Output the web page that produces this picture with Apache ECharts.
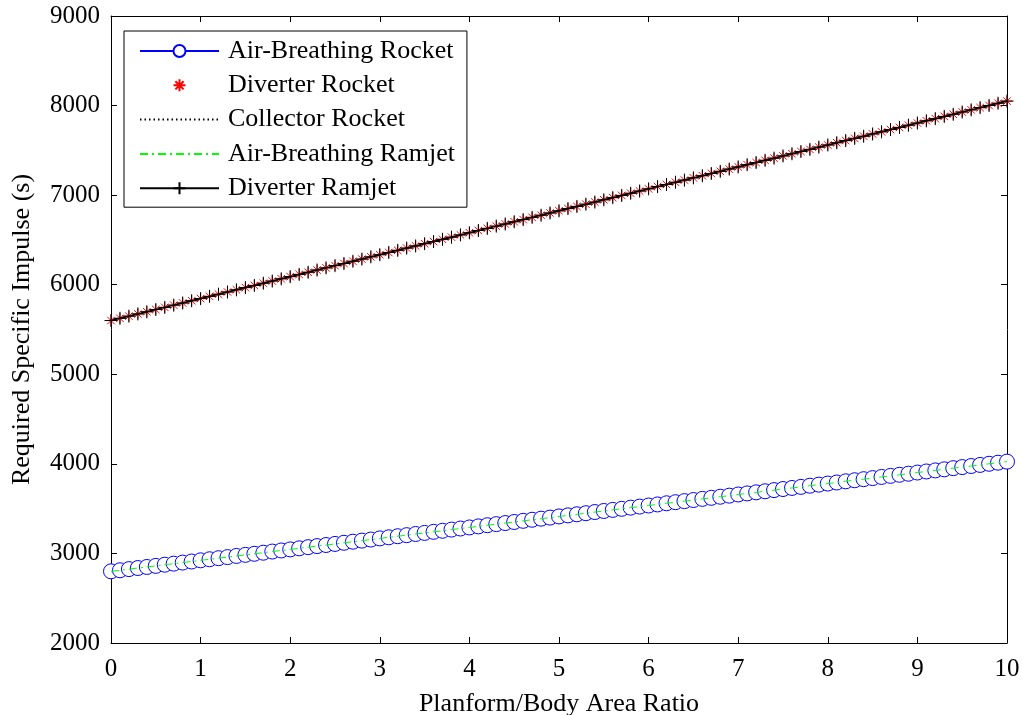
<!DOCTYPE html>
<html>
<head>
<meta charset="utf-8">
<script src="https://cdn.jsdelivr.net/npm/echarts@6/dist/echarts.min.js"></script>
<style>
html,body{margin:0;padding:0;background:#fff;}
#chart{width:1023px;height:715px;}
</style>
</head>
<body>
<div id="chart"></div>
<script>
const xValues = [0,0.1,0.2,0.3,0.4,0.5,0.6,0.7,0.8,0.9,1,1.1,1.2,1.3,1.4,1.5,1.6,1.7,1.8,1.9,2,2.1,2.2,2.3,2.4,2.5,2.6,2.7,2.8,2.9,3,3.1,3.2,3.3,3.4,3.5,3.6,3.7,3.8,3.9,4,4.1,4.2,4.3,4.4,4.5,4.6,4.7,4.8,4.9,5,5.1,5.2,5.3,5.4,5.5,5.6,5.7,5.8,5.9,6,6.1,6.2,6.3,6.4,6.5,6.6,6.7,6.8,6.9,7,7.1,7.2,7.3,7.4,7.5,7.6,7.7,7.8,7.9,8,8.1,8.2,8.3,8.4,8.5,8.6,8.7,8.8,8.9,9,9.1,9.2,9.3,9.4,9.5,9.6,9.7,9.8,9.9,10];

const abRocket = [2800,2812,2825,2837,2849,2861,2874,2886,2898,2910,2923,2935,2947,2959,2972,2984,2996,3008,3021,3033,3045,3057,3070,3082,3094,3106,3119,3131,3143,3155,3168,3180,3192,3204,3217,3229,3241,3253,3266,3278,3290,3302,3315,3327,3339,3351,3364,3376,3388,3400,3413,3425,3437,3449,3462,3474,3486,3498,3511,3523,3535,3547,3560,3572,3584,3596,3609,3621,3633,3645,3658,3670,3682,3694,3707,3719,3731,3743,3756,3768,3780,3792,3805,3817,3829,3841,3854,3866,3878,3890,3903,3915,3927,3939,3952,3964,3976,3988,4001,4013,4025];

const divRocket = [5600,5625,5649,5674,5698,5723,5747,5772,5796,5821,5845,5870,5894,5919,5943,5968,5992,6017,6041,6066,6090,6115,6139,6164,6188,6213,6237,6262,6286,6311,6335,6360,6384,6409,6433,6458,6482,6507,6531,6556,6580,6605,6629,6654,6678,6703,6727,6752,6776,6801,6825,6850,6874,6899,6923,6948,6972,6997,7021,7046,7070,7095,7119,7144,7168,7193,7217,7242,7266,7291,7315,7340,7364,7389,7413,7438,7462,7487,7511,7536,7560,7585,7609,7634,7658,7683,7707,7732,7756,7781,7805,7830,7854,7879,7903,7928,7952,7977,8001,8026,8050];

const collRocket = [5600,5625,5649,5674,5698,5723,5747,5772,5796,5821,5845,5870,5894,5919,5943,5968,5992,6017,6041,6066,6090,6115,6139,6164,6188,6213,6237,6262,6286,6311,6335,6360,6384,6409,6433,6458,6482,6507,6531,6556,6580,6605,6629,6654,6678,6703,6727,6752,6776,6801,6825,6850,6874,6899,6923,6948,6972,6997,7021,7046,7070,7095,7119,7144,7168,7193,7217,7242,7266,7291,7315,7340,7364,7389,7413,7438,7462,7487,7511,7536,7560,7585,7609,7634,7658,7683,7707,7732,7756,7781,7805,7830,7854,7879,7903,7928,7952,7977,8001,8026,8050];

const abRamjet = [2800,2812,2825,2837,2849,2861,2874,2886,2898,2910,2923,2935,2947,2959,2972,2984,2996,3008,3021,3033,3045,3057,3070,3082,3094,3106,3119,3131,3143,3155,3168,3180,3192,3204,3217,3229,3241,3253,3266,3278,3290,3302,3315,3327,3339,3351,3364,3376,3388,3400,3413,3425,3437,3449,3462,3474,3486,3498,3511,3523,3535,3547,3560,3572,3584,3596,3609,3621,3633,3645,3658,3670,3682,3694,3707,3719,3731,3743,3756,3768,3780,3792,3805,3817,3829,3841,3854,3866,3878,3890,3903,3915,3927,3939,3952,3964,3976,3988,4001,4013,4025];

const divRamjet = [5600,5625,5649,5674,5698,5723,5747,5772,5796,5821,5845,5870,5894,5919,5943,5968,5992,6017,6041,6066,6090,6115,6139,6164,6188,6213,6237,6262,6286,6311,6335,6360,6384,6409,6433,6458,6482,6507,6531,6556,6580,6605,6629,6654,6678,6703,6727,6752,6776,6801,6825,6850,6874,6899,6923,6948,6972,6997,7021,7046,7070,7095,7119,7144,7168,7193,7217,7242,7266,7291,7315,7340,7364,7389,7413,7438,7462,7487,7511,7536,7560,7585,7609,7634,7658,7683,7707,7732,7756,7781,7805,7830,7854,7879,7903,7928,7952,7977,8001,8026,8050];

const seriesNames = ['Air-Breathing Rocket','Diverter Rocket','Collector Rocket','Air-Breathing Ramjet','Diverter Ramjet'];
const xTitle = 'Planform/Body Area Ratio';
const yTitle = 'Required Specific Impulse (s)';

function pairs(ys){ return ys.map((y,i)=>[xValues[i], y]); }

const FONT = 'Liberation Serif';
const FS_TICK = 25;
const FS_TEXT = 26;
const ASTERISK = 'path://M5 0 L5 10 M0 5 L10 5 M1.6 1.6 L8.4 8.4 M8.4 1.6 L1.6 8.4';
const PLUS = 'path://M5 0 L5 10 M0 5 L10 5';

const chart = echarts.init(document.getElementById('chart'), null, {renderer:'canvas'});

const baseX = {
  type:'value', min:0, max:10, interval:1,
  axisLine:{show:true, onZero:false, lineStyle:{color:'#000', width:1}},
  axisTick:{show:true, inside:true, length:6, lineStyle:{color:'#000'}},
  splitLine:{show:false}
};
const baseY = {
  type:'value', min:2000, max:9000, interval:1000,
  axisLine:{show:true, onZero:false, lineStyle:{color:'#000', width:1}},
  axisTick:{show:true, inside:true, length:6, lineStyle:{color:'#000'}},
  splitLine:{show:false}
};

chart.setOption({
  animation:false,
  backgroundColor:'#fff',
  textStyle:{fontFamily:FONT},
  grid:{left:111, right:16, top:16, bottom:72, containLabel:false, outerBoundsMode:'none'},
  xAxis:[
    Object.assign({}, baseX, {
      position:'bottom',
      name:xTitle, nameLocation:'middle', nameGap:48,
      nameTextStyle:{fontFamily:FONT, fontSize:FS_TEXT, color:'#000'},
      axisLabel:{show:true, fontFamily:FONT, fontSize:FS_TICK, color:'#000', margin:14}
    }),
    Object.assign({}, baseX, {position:'top', axisLabel:{show:false}})
  ],
  yAxis:[
    Object.assign({}, baseY, {
      position:'left',
      name:yTitle, nameLocation:'middle', nameGap:76,
      nameTextStyle:{fontFamily:FONT, fontSize:FS_TEXT, color:'#000'},
      axisLabel:{show:true, fontFamily:FONT, fontSize:FS_TICK, color:'#000', margin:11,
                 formatter:function(v){ return String(v); }}
    }),
    Object.assign({}, baseY, {position:'right', axisLabel:{show:false}})
  ],
  legend:{
    orient:'vertical', left:124, top:31,
    backgroundColor:'#fff', borderColor:'#000', borderWidth:1,
    padding:[7,12,6,15],
    itemWidth:79, itemHeight:15, itemGap:8.3,
    textStyle:{fontFamily:FONT, fontSize:FS_TEXT, lineHeight:26, color:'#000', padding:[0,0,0,4]},
    data:[
      {name:seriesNames[0]},
      {name:seriesNames[1]},
      {name:seriesNames[2], itemStyle:{opacity:0}},
      {name:seriesNames[3], itemStyle:{opacity:0}},
      {name:seriesNames[4]}
    ]
  },
  series:[
    {
      name:seriesNames[0], type:'line', data:pairs(abRocket),
      symbol:'circle', symbolSize:15, showAllSymbol:true,
      lineStyle:{color:'#0000ff', width:1},
      itemStyle:{color:'#fff', borderColor:'#0000ff', borderWidth:1},
      z:2
    },
    {
      name:seriesNames[1], type:'line', data:pairs(divRocket),
      symbol:ASTERISK, symbolSize:11, showAllSymbol:true,
      lineStyle:{width:0, opacity:0},
      itemStyle:{color:'rgba(0,0,0,0)', borderColor:'#ff0000', borderWidth:1},
      z:3
    },
    {
      name:seriesNames[2], type:'line', data:pairs(collRocket),
      symbol:'none',
      lineStyle:{color:'#000', width:1, type:[1.5,3]},
      itemStyle:{color:'#000'},
      z:4
    },
    {
      name:seriesNames[3], type:'line', data:pairs(abRamjet),
      symbol:'none',
      lineStyle:{color:'#00ff00', width:1, type:[8,4,2,4]},
      itemStyle:{color:'#00ff00'},
      z:5
    },
    {
      name:seriesNames[4], type:'line', data:pairs(divRamjet),
      symbol:PLUS, symbolSize:13, showAllSymbol:true,
      lineStyle:{color:'#000', width:1.5},
      itemStyle:{color:'rgba(0,0,0,0)', borderColor:'#000', borderWidth:1},
      z:6
    }
  ]
});
</script>
</body>
</html>
